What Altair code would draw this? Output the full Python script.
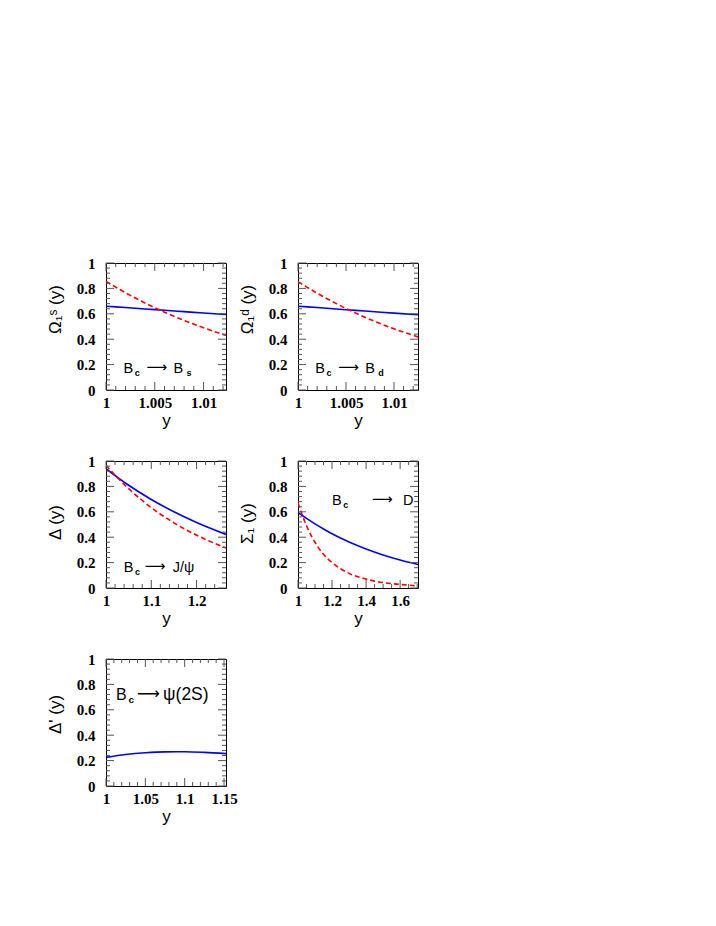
import altair as alt
import pandas as pd

SERIF = "Liberation Serif"
SANS = "Liberation Sans"
BLUE = "#0000ff"
RED = "#ff0000"
TICK = "#555555"
W, H = 120, 127

# ---------------- data ----------------
# Panel 1: B_c -> B_s
p1_x = [1.0, 1.002, 1.004, 1.006, 1.008, 1.010, 1.0123]
p1_blue = [0.660, 0.649, 0.638, 0.628, 0.617, 0.606, 0.595]
p1_red = [0.855, 0.766, 0.685, 0.613, 0.548, 0.490, 0.430]

# Panel 2: B_c -> B_d
p2_x = [1.0, 1.002, 1.004, 1.006, 1.008, 1.010, 1.0125]
p2_blue = [0.660, 0.649, 0.638, 0.627, 0.616, 0.605, 0.593]
p2_red = [0.853, 0.762, 0.680, 0.606, 0.540, 0.482, 0.418]

# Panel 3: B_c -> J/psi
p3_x = [1.0, 1.05, 1.1, 1.15, 1.2, 1.265]
p3_blue = [0.940, 0.809, 0.697, 0.600, 0.516, 0.422]
p3_red = [0.965, 0.782, 0.633, 0.513, 0.416, 0.315]

# Panel 4: B_c -> D
p4_x = [1.0, 1.05, 1.1, 1.15, 1.2, 1.3, 1.4, 1.5, 1.6, 1.705]
p4_blue = [0.595, 0.548, 0.505, 0.465, 0.427, 0.362, 0.307, 0.260, 0.220, 0.185]
p4_red = [0.670, 0.490, 0.360, 0.265, 0.200, 0.115, 0.070, 0.043, 0.028, 0.016]

# Panel 5: B_c -> psi(2S)
p5_x = [1.0, 1.025, 1.05, 1.075, 1.1, 1.125, 1.1525]
p5_blue = [0.225, 0.248, 0.262, 0.269, 0.270, 0.265, 0.255]

# axis ticks
y_major = [0, 0.2, 0.4, 0.6, 0.8, 1]
y_minor = [0.04, 0.08, 0.12, 0.16, 0.24, 0.28, 0.32, 0.36, 0.44, 0.48, 0.52, 0.56,
           0.64, 0.68, 0.72, 0.76, 0.84, 0.88, 0.92, 0.96]

x1_major = [1, 1.005, 1.01]
x1_minor = [1.001, 1.002, 1.003, 1.004, 1.006, 1.007, 1.008, 1.009, 1.011, 1.012]
x3_major = [1, 1.1, 1.2]
x3_minor = [1.02, 1.04, 1.06, 1.08, 1.12, 1.14, 1.16, 1.18, 1.22, 1.24]
x4_major = [1, 1.2, 1.4, 1.6]
x4_minor = [1.05, 1.1, 1.15, 1.25, 1.3, 1.35, 1.45, 1.5, 1.55, 1.65, 1.7]
x5_major = [1, 1.05, 1.1, 1.15]
x5_minor = [1.01, 1.02, 1.03, 1.04, 1.06, 1.07, 1.08, 1.09, 1.11, 1.12, 1.13, 1.14]

titles = ["\u03a9\u2081\u02e2 (y)", "\u03a9\u2081\u1d48 (y)", "\u0394 (y)", "\u03a3\u2081 (y)", "\u0394' (y)"]
# annotation: anchor (x, y), target, subscript of target
ann_x = [1.0018, 1.0018, 1.039, 1.2, 1.0128]
ann_y = [0.133, 0.133, 0.128, 0.654, 0.675]
ann_target = ["B", "B", "J/\u03c8", "D", "\u03c8(2S)"]
ann_target_sub = ["s", "d", "", "", ""]

YDOM = [0, 1]


def xscale(dom):
    return alt.Scale(domain=dom, nice=False, zero=False)


def yscale():
    return alt.Scale(domain=YDOM, nice=False, zero=False)


def make_axes(i, xmaj, title_y):
    xaxis = alt.Axis(values=xmaj, format="~g", ticks=False, domain=False, grid=False,
                     labelFont=SERIF, labelFontWeight="bold", labelFontSize=15,
                     labelColor="black", labelPadding=5, labelFlush=False,
                     labelOverlap=False, title="y", titleFont=SANS,
                     titleFontWeight="normal", titleFontSize=17, titleColor="black",
                     titlePadding=2)
    yaxis = alt.Axis(values=y_major, format="~g", ticks=False, domain=False, grid=False,
                     labelFont=SERIF, labelFontWeight="bold", labelFontSize=15,
                     labelColor="black", labelPadding=11, labelOverlap=False,
                     title=titles[i], titleFont=SANS, titleFontWeight="normal",
                     titleFontSize=17, titleColor="black", titlePadding=12,
                     titleY=title_y)
    return xaxis, yaxis


def tick_layers(xdom, xmaj, xmin_, xaxis, yaxis):
    layers = []
    for vals, L in [(xmaj, 8), (xmin_, 4)]:
        df = pd.DataFrame({"v": vals})
        layers.append(alt.Chart(df).mark_rule(color=TICK, strokeWidth=1,
                                              strokeDash=[L, H - 2 * L]).encode(
            x=alt.X("v:Q", scale=xscale(xdom), axis=xaxis),
            y=alt.value(0), y2=alt.value(H)))
    for vals, L in [(y_major, 8), (y_minor, 4)]:
        df = pd.DataFrame({"v": vals})
        layers.append(alt.Chart(df).mark_rule(color=TICK, strokeWidth=1,
                                              strokeDash=[L, W - 2 * L]).encode(
            y=alt.Y("v:Q", scale=yscale(), axis=yaxis),
            x=alt.value(0), x2=alt.value(W)))
    return layers


def annotation(i, xdom, xaxis, yaxis, arrow_dx, target_dx, sub_dx, size, tsize):
    df = pd.DataFrame({"x": [ann_x[i]], "y": [ann_y[i]]})
    enc = dict(x=alt.X("x:Q", scale=xscale(xdom), axis=xaxis),
               y=alt.Y("y:Q", scale=yscale(), axis=yaxis))
    parts = [
        alt.Chart(df).mark_text(text="B", align="left", baseline="alphabetic",
                                font=SANS, fontSize=size, color="black").encode(**enc),
        alt.Chart(df).mark_text(text="c", align="left", baseline="alphabetic",
                                font=SANS, fontSize=size * 0.62, fontWeight="bold",
                                dx=size * 0.78, dy=3, color="black").encode(**enc),
        alt.Chart(df).mark_text(text="\u27f6", align="left", baseline="alphabetic",
                                font="DejaVu Sans", fontSize=size, dx=arrow_dx, dy=-1,
                                color="black").encode(**enc),
        alt.Chart(df).mark_text(text=ann_target[i], align="left", baseline="alphabetic",
                                font=SANS, fontSize=tsize, dx=target_dx,
                                color="black").encode(**enc),
    ]
    if ann_target_sub[i]:
        parts.append(alt.Chart(df).mark_text(text=ann_target_sub[i], align="left",
                                             baseline="alphabetic", font=SANS,
                                             fontSize=size * 0.62, fontWeight="bold",
                                             dx=sub_dx, dy=3, color="black").encode(**enc))
    return parts


def panel(i, xs, blue, red, xdom, xmaj, xmin_, title_y, ann_args):
    xaxis, yaxis = make_axes(i, xmaj, title_y)
    df = pd.DataFrame({"x": xs, "v": blue})
    layers = [alt.Chart(df).mark_line(color=BLUE, strokeWidth=1.6, clip=True,
                                      interpolate="monotone").encode(
        x=alt.X("x:Q", scale=xscale(xdom), axis=xaxis),
        y=alt.Y("v:Q", scale=yscale(), axis=yaxis))]
    if red is not None:
        dfr = pd.DataFrame({"x": xs, "v": red})
        layers.append(alt.Chart(dfr).mark_line(color=RED, strokeWidth=1.6, clip=True,
                                               strokeDash=[5, 3],
                                               interpolate="monotone").encode(
            x=alt.X("x:Q", scale=xscale(xdom), axis=xaxis),
            y=alt.Y("v:Q", scale=yscale(), axis=yaxis)))
    layers += tick_layers(xdom, xmaj, xmin_, xaxis, yaxis)
    layers += annotation(i, xdom, xaxis, yaxis, *ann_args)
    return alt.layer(*layers).properties(width=W, height=H)


c1 = panel(0, p1_x, p1_blue, p1_red, [1, 1.0123], x1_major, x1_minor, 46, (23, 50, 63, 14.5, 14.5))
c2 = panel(1, p2_x, p2_blue, p2_red, [1, 1.0125], x1_major, x1_minor, 46, (23, 50, 63, 14.5, 14.5))
c3 = panel(2, p3_x, p3_blue, p3_red, [1, 1.265], x3_major, x3_minor, 61, (21, 49, 0, 14.5, 14.5))
c4 = panel(3, p4_x, p4_blue, p4_red, [1, 1.705], x4_major, x4_minor, 62, (40, 71, 0, 14.5, 14.5))
c5 = panel(4, p5_x, p5_blue, None, [1, 1.1525], x5_major, x5_minor, 55, (21, 47, 0, 16, 17.5))

chart = alt.vconcat(
    alt.hconcat(c1, c2, spacing=10),
    alt.hconcat(c3, c4, spacing=10),
    c5,
    spacing=24,
).properties(
    padding={"left": 37, "top": 247, "right": 5, "bottom": 5}
).configure_view(stroke="black", strokeWidth=1)

chart.save("out.html", embed_options={"renderer": "svg", "actions": False})
